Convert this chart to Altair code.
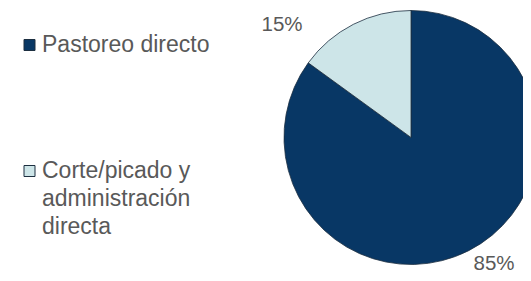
import altair as alt
import pandas as pd

categories = ["Pastoreo directo", "Corte/picado y administración directa"]
legend_labels = ["Pastoreo directo", "Corte/picado y\nadministración\ndirecta"]
values = [85, 15]
colors = ["#083765", "#cde5e8"]

df = pd.DataFrame({
    "cat": categories,
    "legend": legend_labels,
    "value": values,
    "idx": list(range(len(categories))),
    "pct": [f"{v}%" for v in values],
})

color_scale = alt.Scale(domain=categories, range=colors)
FONT = "Liberation Sans"
TXT = "#595959"

base = alt.Chart(df)

pie = base.mark_arc(outerRadius=127, stroke="#1d2f40", strokeWidth=0.8).encode(
    theta=alt.Theta("value:Q", stack=True),
    color=alt.Color("cat:N", scale=color_scale, legend=None),
    order=alt.Order("idx:Q"),
    x=alt.value(403),
    y=alt.value(129.5),
)

lab15 = base.transform_filter("datum.idx == 1").mark_text(
    font=FONT, fontSize=20.5, color=TXT, align="center", baseline="alphabetic"
).encode(text="pct:N", x=alt.value(274), y=alt.value(23))

lab85 = base.transform_filter("datum.idx == 0").mark_text(
    font=FONT, fontSize=20.5, color=TXT, align="center", baseline="alphabetic"
).encode(text="pct:N", x=alt.value(486), y=alt.value(262))

ypos = alt.Y("cat:N", scale=alt.Scale(type="point", domain=categories, range=[37, 163], padding=0), axis=None)

leg_sq = base.mark_square(size=121, opacity=1, stroke="#1d2f40", strokeWidth=1).encode(
    x=alt.value(21.5),
    y=ypos,
    fill=alt.Fill("cat:N", scale=color_scale, legend=None),
)

leg_txt = base.mark_text(
    font=FONT, fontSize=23, color=TXT, align="left", baseline="alphabetic",
    lineBreak="\n", lineHeight=28, dy=7,
).encode(x=alt.value(34), y=ypos, text="legend:N")

chart = alt.layer(pie, lab15, lab85, leg_sq, leg_txt).properties(
    width=515, height=265, padding=0, autosize=alt.AutoSizeParams(type="none"),
).configure_view(stroke=None)

chart.save("out.html", embed_options={"renderer": "svg", "actions": False})
